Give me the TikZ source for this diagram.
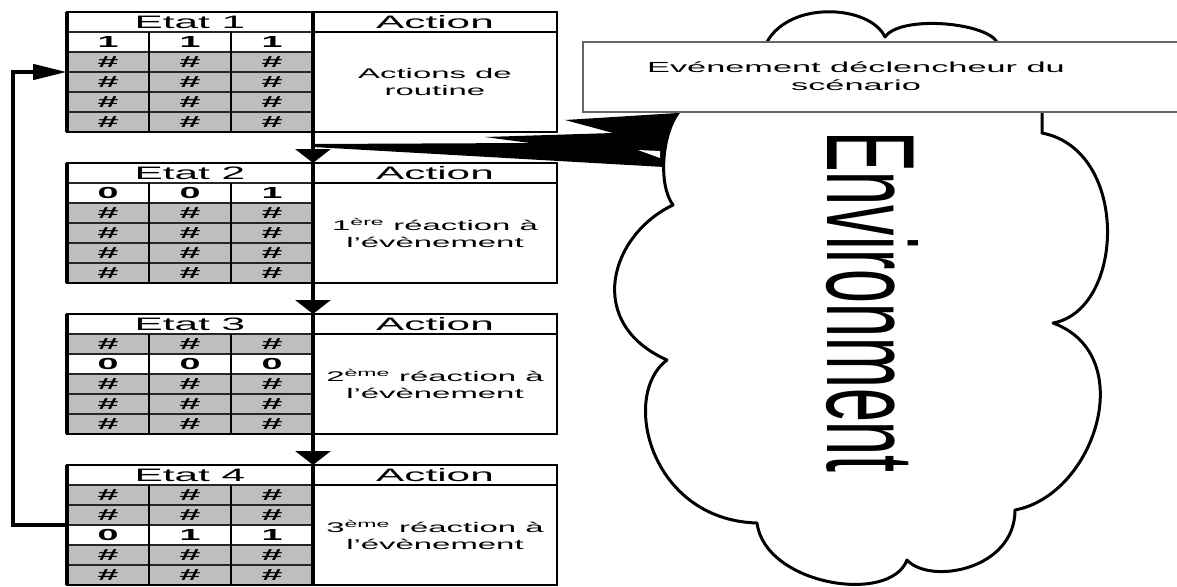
\documentclass[tikz,border=0pt]{standalone}
\usepackage{fontspec}
\setmainfont{Liberation Sans}[FakeStretch=2.35]
\newfontfamily\envfont{Liberation Sans}[FakeStretch=0.484]
\usetikzlibrary{arrows.meta,positioning}
\definecolor{grisfond}{RGB}{190,190,190}
\newcommand{\taille}[2]{\fontsize{#1}{#2}\selectfont}

\begin{document}
\begin{tikzpicture}[x=1pt,y=-1pt,
  cellule/.style={draw=black!85, line width=1.2pt, minimum width=82pt, minimum height=20pt,
    inner sep=0pt, outer sep=0pt, font=\bfseries\taille{16}{16}},
  diese/.style={cellule, fill=grisfond, font=\bfseries\taille{16}{16}},
  valeur/.style={cellule, fill=white},
  entete/.style={draw=black!85, line width=1.2pt, fill=white, minimum height=20pt,
    inner sep=0pt, outer sep=0pt, font=\taille{18}{18}},
  texteaction/.style={align=center, inner sep=0pt, font=\taille{14}{17}},
  fleche/.style={line width=4pt, -{Triangle[width=35pt,length=14pt]}},
  retour/.style={line width=4.5pt, -{Triangle[width=15pt,length=34pt]}},
  nuage/.style={draw, line width=3pt, fill=white, line join=round}]

  \useasboundingbox (0,0) rectangle (1177,586);

  % les quatre etats
  \foreach \k/\ligne/\va/\vb/\vc/\txt in {
      1/1/1/1/1/{Actions de\\routine},
      2/1/0/0/1/{1\textsuperscript{ère} réaction à\\l’évènement},
      3/2/0/0/0/{2\textsuperscript{ème} réaction à\\l’évènement},
      4/3/0/1/1/{3\textsuperscript{ème} réaction à\\l’évènement}} {
    \pgfmathsetmacro{\haut}{12+151*(\k-1)}
    \node[entete, minimum width=246pt] (etat\k) at (190,\haut+10) {Etat \k};
    \node[entete, minimum width=244pt] (action\k) at (435,\haut+10) {Action};
    \draw[line width=1.2pt, fill=white] (action\k.south west) rectangle ++(244,100);
    \node[texteaction] (texte\k) at (435,\haut+70) {\txt};
    \foreach \j in {1,...,5} {
      \ifnum\j=\ligne\relax
        \node[valeur] (c\k-\j-1) at (108,\haut+10+20*\j) {\va};
        \node[valeur] (c\k-\j-2) at (190,\haut+10+20*\j) {\vb};
        \node[valeur] (c\k-\j-3) at (272,\haut+10+20*\j) {\vc};
      \else
        \node[diese] (c\k-\j-1) at (108,\haut+10+20*\j) {\#};
        \node[diese] (c\k-\j-2) at (190,\haut+10+20*\j) {\#};
        \node[diese] (c\k-\j-3) at (272,\haut+10+20*\j) {\#};
      \fi
    }
    \draw[line width=2.2pt] (etat\k.north west) rectangle (c\k-5-3.south east -| action\k.east);
    \draw[line width=4pt] (etat\k.north west) -- (c\k-5-1.south west);
    \draw[line width=2.8pt] (c\k-1-1.north east) -- (c\k-5-1.south east);
    \draw[line width=2.8pt] (c\k-1-2.north east) -- (c\k-5-2.south east);
    \draw[line width=3.5pt] (etat\k.north east) -- (c\k-5-3.south east);
  }

  \foreach \k/\s in {1/2,2/3,3/4}
    \draw[fleche] (c\k-5-3.south east) -- (etat\s.north east);

  \draw[retour] (c4-2-1.south west) -- ++(-54,0) |- (c1-2-1.south west);

  % nuage
  \draw[nuage] (700,90) -- (678,113)
    .. controls (662,135) and (658,185) .. (673,205)
    .. controls (610,235) and (584,323) .. (667,360)
    .. controls (620,395) and (650,520) .. (757,523)
    .. controls (765,585) and (890,605) .. (907,560)
    .. controls (930,585) and (1015,570) .. (1015,510)
    .. controls (1095,495) and (1140,355) .. (1053,323)
    .. controls (1125,310) and (1130,150) .. (1042,133)
    -- (1042,100) -- (997,60) -- (997,42)
    .. controls (985,22) and (900,15) .. (885,37)
    .. controls (870,5) and (790,0) .. (767,42)
    -- (767,60) -- cycle;
  \node[rotate=-90, inner sep=0pt, font=\envfont\taille{125.7}{126}] (env) at (872,302) {Environment};

  % bulle
  \fill (565,120) -- (678,113) .. controls (668,130) and (663,150) .. (664,167)
    -- (313,147) -- (313,144) -- (530,143) -- (485,137) -- (613,133) -- cycle;
  \fill[white] (638,150) -- (660,151) -- (660,158) -- cycle;

  \fill[white] (583,42) rectangle (1190,112);
  \draw[black!60, line width=1.2pt] (1190,42) -- (583,42) -- (583,112) -- (1190,112);
  \node[align=center, font=\taille{14.6}{18}] (evenement) at (856,76)
    {Evénement déclencheur du\\scénario};
\end{tikzpicture}
\end{document}
